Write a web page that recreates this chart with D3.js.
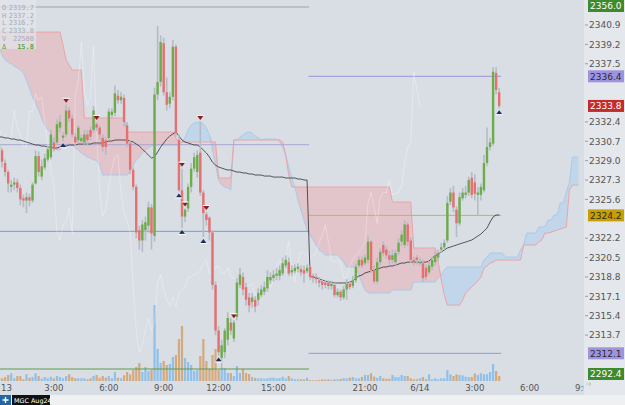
<!DOCTYPE html>
<html><head><meta charset="utf-8">
<script src="https://cdn.jsdelivr.net/npm/d3@7"></script>
<style>body{margin:0;background:#eceef1;overflow:hidden}svg{display:block}</style>
</head><body><svg id="c" width="625" height="405"></svg>
<script>
// ---------------- DATA (10-minute bars, MGC Aug24, 6/13 00:00 -> 6/14 04:20) ----------------
const opens=[2329.9,2329.9,2328.8,2328.0,2326.7,2326.9,2327.1,2326.6,2325.7,2325.5,2325.8,2325.5,2327.0,2329.4,2327.6,2328.4,2329.1,2329.3,2330.6,2330.6,
2331.9,2331.0,2331.3,2333.4,2332.7,2331.1,2330.8,2330.7,2330.6,2331.3,2331.7,2331.7,2332.2,2331.9,2331.0,2330.8,2331.0,2333.0,2333.2,2334.7,
2334.3,2334.5,2332.1,2330.5,2328.2,2326.7,2322.9,2322.0,2322.9,2323.3,2324.9,2322.4,2334.8,2335.9,2339.3,2335.0,2334.0,2334.6,2339.0,2330.8,
2326.4,2324.1,2324.8,2326.7,2328.3,2328.0,2329.7,2326.2,2324.3,2324.0,2322.7,2318.1,2314.1,2311.7,2312.2,2313.3,2314.8,2313.4,2315.3,2318.1,
2318.8,2317.9,2317.0,2316.6,2316.8,2316.8,2317.2,2317.5,2317.8,2318.5,2318.7,2318.9,2318.9,2319.1,2319.8,2320.1,2319.2,2319.3,2319.5,2319.5,
2319.4,2319.3,2319.7,2318.9,2318.8,2318.5,2318.4,2318.3,2318.3,2318.0,2318.1,2317.2,2317.5,2317.0,2317.7,2318.2,2318.0,2318.5,2319.8,2320.3,
2320.0,2320.3,2321.9,2319.4,2318.4,2320.1,2321.6,2321.2,2320.7,2320.3,2320.1,2321.0,2321.9,2321.6,2323.4,2322.0,2320.3,2320.5,2320.0,2320.0,
2319.6,2319.2,2319.7,2320.1,2320.5,2321.2,2321.4,2322.0,2325.4,2326.2,2324.7,2323.5,2325.7,2326.0,2326.2,2327.5,2327.1,2326.0,2326.0,2326.4,
2328.8,2330.2,2330.5,2336.7,2335.0];
const highs=[2330.8,2330.1,2329.1,2328.2,2327.3,2327.5,2327.4,2326.9,2326.0,2326.2,2326.1,2327.1,2329.9,2329.8,2329.1,2329.6,2330.3,2331.7,2331.0,2332.6,
2333.0,2331.5,2333.9,2333.7,2333.0,2331.4,2332.1,2331.3,2331.7,2331.7,2332.0,2333.8,2332.4,2332.1,2331.3,2331.1,2333.6,2333.6,2335.6,2335.2,
2335.0,2334.8,2332.4,2330.8,2328.4,2326.9,2323.3,2323.8,2324.1,2325.4,2325.2,2335.4,2340.8,2340.0,2339.8,2336.3,2335.0,2339.6,2339.2,2331.3,
2328.3,2324.8,2327.0,2328.8,2329.7,2329.9,2332.4,2326.4,2324.5,2324.1,2322.9,2318.4,2314.5,2313.3,2314.3,2315.7,2315.2,2315.0,2318.7,2319.6,
2319.2,2318.3,2317.4,2317.4,2317.1,2317.8,2318.1,2318.4,2319.4,2319.2,2319.4,2319.6,2319.8,2320.5,2320.7,2320.5,2319.8,2319.9,2320.0,2319.8,
2319.8,2319.9,2319.8,2319.1,2319.1,2318.8,2318.6,2318.5,2318.5,2318.4,2318.3,2317.8,2317.7,2318.0,2318.6,2318.4,2318.9,2320.0,2320.6,2320.6,
2320.8,2322.4,2322.0,2319.8,2320.5,2321.3,2321.9,2321.5,2321.1,2321.2,2321.2,2322.2,2322.9,2323.8,2323.6,2322.3,2320.6,2320.7,2320.5,2320.3,
2319.9,2320.2,2320.6,2321.1,2321.2,2321.8,2322.1,2325.9,2326.6,2326.8,2325.0,2326.2,2326.6,2326.8,2327.6,2328.0,2327.8,2326.7,2327.0,2329.5,
2331.9,2331.0,2337.2,2337.2,2335.4];
const lows=[2329.8,2328.4,2327.6,2326.2,2326.2,2326.4,2326.2,2325.1,2324.9,2324.4,2325.0,2325.3,2326.9,2327.6,2327.3,2328.2,2328.9,2329.1,2329.8,2330.4,
2331.5,2330.7,2331.1,2332.4,2331.0,2330.3,2330.5,2330.5,2330.4,2330.3,2330.8,2331.4,2331.6,2330.8,2329.8,2329.5,2330.8,2332.7,2332.9,2334.0,
2334.0,2332.0,2330.2,2327.8,2326.4,2322.2,2321.2,2321.0,2322.0,2322.7,2321.2,2321.9,2334.3,2335.5,2334.7,2333.4,2333.6,2334.3,2331.1,2326.3,
2323.1,2323.6,2324.5,2326.2,2328.0,2327.5,2325.9,2322.3,2323.3,2322.0,2317.7,2313.7,2311.9,2310.8,2311.7,2312.8,2313.7,2313.1,2315.0,2317.8,
2317.2,2316.3,2315.7,2316.1,2315.7,2316.3,2317.0,2317.2,2317.5,2318.2,2318.4,2318.5,2318.5,2318.9,2319.6,2318.9,2318.9,2319.1,2319.2,2318.9,
2318.3,2319.1,2318.5,2318.3,2318.2,2317.9,2317.7,2317.8,2317.7,2317.7,2317.0,2317.0,2316.7,2316.8,2316.8,2317.7,2317.8,2318.3,2319.6,2319.6,
2319.8,2320.0,2319.1,2318.2,2318.2,2319.8,2320.6,2320.4,2319.9,2320.0,2319.8,2320.7,2321.5,2321.3,2321.5,2320.0,2319.8,2319.9,2319.8,2318.4,
2318.5,2319.0,2319.4,2319.8,2320.2,2320.9,2321.2,2321.8,2325.1,2324.5,2322.3,2323.3,2325.5,2325.7,2325.9,2325.7,2325.5,2324.2,2325.5,2326.2,
2328.5,2329.9,2330.3,2334.8,2333.6];
const closes=[2330.3,2328.9,2328.0,2327.0,2326.9,2327.1,2326.6,2325.6,2325.5,2325.8,2325.5,2326.9,2329.4,2328.0,2328.5,2329.2,2330.0,2331.3,2330.0,2332.2,
2332.4,2331.2,2333.4,2332.7,2331.3,2330.6,2331.9,2331.0,2331.3,2330.8,2331.1,2333.4,2331.9,2331.3,2330.2,2330.2,2333.3,2333.3,2334.9,2334.3,
2334.6,2332.4,2330.5,2328.2,2326.7,2322.7,2322.0,2323.4,2323.6,2324.9,2322.6,2334.8,2335.9,2339.4,2335.0,2333.9,2334.6,2339.0,2331.4,2326.4,
2324.1,2324.7,2326.7,2328.3,2329.3,2329.5,2326.2,2324.4,2323.8,2322.7,2318.1,2314.1,2312.2,2312.8,2314.1,2315.2,2314.1,2314.8,2318.3,2319.0,
2317.7,2316.8,2316.3,2317.0,2316.2,2317.4,2317.7,2317.9,2318.8,2318.8,2319.0,2319.1,2319.4,2320.0,2320.3,2319.1,2319.4,2319.6,2319.7,2319.2,
2319.1,2319.6,2318.8,2318.7,2318.6,2318.3,2318.1,2318.1,2318.0,2318.2,2317.2,2317.5,2317.0,2317.7,2318.2,2317.9,2318.5,2319.7,2320.3,2319.8,
2320.5,2321.9,2319.4,2318.4,2320.1,2321.0,2320.9,2320.7,2320.3,2320.7,2320.9,2321.8,2322.5,2323.4,2321.9,2320.3,2320.1,2320.3,2320.1,2318.7,
2318.8,2319.8,2320.3,2320.7,2320.9,2321.4,2321.8,2325.3,2326.2,2324.9,2323.5,2325.8,2326.2,2326.2,2327.3,2326.0,2326.1,2326.2,2326.7,2328.8,
2330.2,2330.6,2336.8,2335.2,2333.8];
const volumes=[30,27,40,60,77,27,50,50,17,67,33,40,77,50,23,40,27,43,27,50,
40,27,50,67,40,27,27,27,27,17,27,50,60,33,50,33,50,27,90,33,
27,57,90,67,110,140,180,90,140,100,110,760,320,180,200,160,170,240,260,420,
550,230,190,160,100,110,250,420,200,120,260,320,110,130,130,80,80,50,150,80,
120,80,70,40,30,27,27,23,27,33,33,27,30,43,27,50,27,17,17,17,
17,33,10,7,7,10,17,12,17,12,17,17,20,27,27,33,40,27,27,40,
60,60,77,43,33,50,27,23,23,60,40,40,60,50,50,27,17,17,27,40,
17,67,17,27,17,27,27,110,67,50,67,60,57,43,40,40,77,60,77,67,
67,90,170,100,50];
const vwap=[2331.08,2331.08,2330.99,2330.99,2330.90,2330.90,2330.81,2330.81,2330.72,2330.63,2330.55,2330.46,2330.37,2330.37,2330.28,2330.28,2330.19,2330.19,2330.11,2330.11,
2330.19,2330.28,2330.28,2330.37,2330.37,2330.37,2330.46,2330.46,2330.46,2330.46,2330.46,2330.55,2330.55,2330.55,2330.55,2330.63,2330.72,2330.72,2330.81,2330.81,
2330.81,2330.81,2330.81,2330.72,2330.63,2330.46,2330.28,2330.02,2329.75,2329.49,2329.23,2329.32,2329.75,2330.19,2330.55,2330.90,2331.16,2331.34,2331.51,2331.16,
2330.81,2330.63,2330.55,2330.46,2330.37,2330.37,2330.19,2329.93,2329.67,2329.32,2328.87,2328.61,2328.44,2328.35,2328.26,2328.18,2328.18,2328.09,2328.00,2328.00,
2327.92,2327.92,2327.83,2327.83,2327.74,2327.74,2327.74,2327.65,2327.65,2327.65,2327.56,2327.56,2327.56,2327.56,2327.48,2327.48,2327.48,2327.48,2327.39,2327.39,
2327.30,2327.30,2318.80,2318.80,2318.71,2318.62,2318.53,2318.44,2318.35,2318.35,2318.27,2318.27,2318.27,2318.27,2318.27,2318.35,2318.44,2318.71,2318.88,2318.97,
2319.15,2319.23,2319.32,2319.41,2319.49,2319.58,2319.67,2319.67,2319.76,2319.76,2319.84,2319.93,2320.02,2320.02,2320.10,2320.10,2320.10,2320.10,2320.10,2320.10,
2320.10,2320.19,2320.46,2320.63,2320.81,2320.98,2321.16,2321.34,2321.42,2321.51,2321.60,2321.69,2321.78,2321.86,2321.95,2322.04,2322.21,2322.39,2322.56,2322.82,
2323.09,2323.61,2324.06,2324.23,2324.23];
// Ichimoku leading spans (26 bars projected forward)
const spanA=[2338.97,2338.27,2337.83,2337.65,2337.48,2337.30,2337.13,2336.95,2336.69,2336.07,2335.37,2334.58,2334.06,2333.44,2332.74,2332.12,2331.69,2331.43,2330.11,2329.93,
2329.93,2330.19,2330.37,2330.55,2330.37,2330.11,2329.93,2329.67,2329.49,2329.32,2329.23,2329.05,2329.05,2328.61,2327.74,2327.74,2327.74,2327.74,2327.74,2327.74,
2327.74,2327.74,2327.74,2328.00,2328.61,2329.05,2329.32,2329.67,2329.93,2330.11,2330.28,2330.37,2330.37,2330.37,2330.37,2330.37,2330.37,2330.37,2330.37,2330.37,
2330.63,2330.99,2331.69,2332.12,2332.30,2332.38,2332.38,2332.21,2331.86,2331.25,2329.93,2328.61,2327.30,2326.86,2326.69,2326.60,2326.42,2330.81,2330.81,2331.08,
2331.25,2331.43,2331.51,2331.43,2331.16,2330.99,2330.81,2330.90,2330.90,2330.90,2330.90,2330.90,2330.63,2330.19,2329.49,2328.44,2327.48,2326.69,2325.55,2324.67,
2323.79,2322.91,2322.47,2322.04,2321.60,2321.16,2320.98,2320.72,2320.72,2320.72,2320.72,2320.72,2320.46,2320.10,2319.67,2319.67,2319.67,2319.67,2318.97,2318.27,
2317.65,2317.39,2317.39,2317.39,2317.39,2317.39,2317.39,2317.39,2317.39,2317.65,2317.65,2317.65,2317.65,2317.65,2317.65,2317.65,2318.35,2318.35,2318.35,2318.35,
2318.35,2318.35,2318.35,2318.35,2318.71,2318.97,2319.41,2319.67,2319.67,2319.67,2319.67,2319.67,2319.67,2319.67,2319.67,2319.67,2319.67,2319.67,2319.67,2320.28,
2320.54,2320.90,2320.90,2320.90,2320.90,2320.90,2320.54,2320.54,2320.54,2320.54,2320.54,2321.16,2321.60,2322.65,2322.65,2322.65,2322.65,2323.18,2323.18,2323.18,
2323.79,2323.79,2324.23,2324.23,2325.29,2325.29,2326.25,2327.04,2329.32,2329.32,2329.32];
const spanB=[2340.28,2340.28,2340.28,2340.28,2340.28,2340.28,2340.28,2340.28,2340.28,2340.28,2340.28,2340.28,2340.28,2340.28,2340.28,2340.28,2340.28,2340.28,2340.28,2340.28,
2340.28,2339.14,2337.83,2337.39,2336.95,2336.95,2336.95,2336.95,2332.74,2332.74,2332.74,2332.74,2332.74,2332.74,2332.74,2332.74,2332.74,2332.74,2332.74,2332.74,
2332.74,2332.74,2331.51,2331.51,2331.51,2331.51,2331.51,2331.51,2331.51,2331.51,2331.51,2331.51,2331.51,2331.51,2331.51,2331.51,2331.51,2331.51,2330.99,2330.63,
2330.63,2330.63,2330.63,2330.63,2330.63,2330.63,2330.63,2330.63,2330.63,2330.63,2330.63,2330.63,2327.48,2327.48,2327.48,2327.48,2327.48,2330.81,2330.81,2330.81,
2330.81,2330.81,2330.81,2330.81,2330.81,2330.81,2330.81,2330.81,2330.81,2330.81,2330.81,2330.81,2330.81,2330.63,2329.49,2327.74,2326.69,2326.69,2326.69,2326.69,
2326.69,2326.69,2326.69,2326.69,2326.69,2326.69,2326.69,2326.69,2326.69,2326.69,2326.69,2326.69,2326.69,2326.69,2326.69,2326.69,2326.69,2326.69,2326.69,2326.69,
2326.69,2326.69,2326.69,2326.69,2326.69,2326.69,2326.69,2326.69,2326.69,2325.37,2325.37,2325.37,2325.37,2325.37,2325.37,2325.37,2321.34,2321.34,2321.34,2321.34,
2321.34,2321.34,2321.34,2321.34,2320.10,2318.53,2317.21,2316.33,2316.33,2316.33,2316.33,2316.33,2316.77,2317.39,2317.65,2317.92,2318.18,2318.44,2318.80,2319.58,
2319.76,2320.02,2320.10,2320.28,2320.28,2320.28,2320.28,2320.28,2320.28,2320.28,2320.28,2320.28,2321.60,2321.60,2321.60,2321.60,2321.60,2321.86,2322.04,2322.65,
2322.65,2322.73,2322.82,2322.91,2323.00,2323.09,2323.18,2326.42,2326.86,2326.86,2326.86];
const chikouShift=26;
const fractalDown=[22,32,60,61,66,68,77];
const fractalUp=[21,59,60,67,72,164];
// horizontal session levels
const levelPrices=[2356.0,2330.4,2322.8,2292.4,2336.4,2324.2,2312.1];
const levelFrom=[0,0,0,0,102,102,102];
const levelTo=[101,101,101,101,164,164,164];
const levelColors=['#9ea39a','#a9a6cf','#6f9fd0','#5f9a48','#9c91de','#d3ae4c','#9c91de'];
// right axis
const yTicks=[2340.9,2339.2,2337.5,2332.4,2330.7,2329.0,2327.3,2325.6,2322.2,2320.5,2318.8,2317.1,2315.4,2313.7];
const tagPrices=[2356.0,2336.4,2333.8,2324.2,2312.1,2292.4];
const tagFill=['#3e8a2c','#9f93e0','#c42b2b','#c79f00','#9f93e0','#3e8a2c'];
const tagInk=['#ffffff','#2b2b2b','#ffffff','#2b2b2b','#2b2b2b','#ffffff'];
// time axis
const tickIdx=[0,18,36,54,72,90,120,138,156,174,192];
const tickLabels=['13','3:00','6:00','9:00','12:00','15:00','21:00','6/14','3:00','6:00','9:00'];
const infoLabels=['O','H','L','C','V','Δ'];
const infoValues=['2319.7','2337.2','2316.7','2333.8','22580','15.8'];

// ---------------- LAYOUT ----------------
const PW=584, PH=381;
const svg=d3.select('#c');
const x=d3.scaleLinear().domain([0,192]).range([-1,584.6]);
const y=d3.scaleLinear().domain([2340.9,2313.7]).range([25,335.08]);
const vy=d3.scaleLinear().domain([0,800]).range([381,301]);
const fmt=d3.format('.1f');

svg.append('rect').attr('width',625).attr('height',405).attr('fill','#eef0f2');
svg.append('rect').attr('width',PW).attr('height',395).attr('fill','#d9dee5');
svg.append('rect').attr('x',PW).attr('width',625-PW).attr('height',395).attr('fill','#e4e7ec');
const defs=svg.append('defs');
defs.append('clipPath').attr('id','pc').append('rect').attr('width',PW).attr('height',PH);
defs.append('clipPath').attr('id','xc').append('rect').attr('width',PW).attr('height',395);

const g=svg.append('g').attr('clip-path','url(#pc)');
const idx=d3.range(spanA.length);
// cloud
g.append('path').datum(idx).attr('fill','rgba(238,160,166,0.42)')
 .attr('d',d3.area().x(i=>x(i)).y0(i=>y(spanA[i])).y1(i=>Math.min(y(spanA[i]),y(spanB[i]))));
g.append('path').datum(idx).attr('fill','rgba(168,204,240,0.48)')
 .attr('d',d3.area().x(i=>x(i)).y0(i=>y(spanB[i])).y1(i=>Math.min(y(spanA[i]),y(spanB[i]))));
g.append('path').datum(idx).attr('fill','none').attr('stroke','#a9cae9').attr('stroke-width',1)
 .attr('d',d3.line().x(i=>x(i)).y(i=>y(spanA[i])));
g.append('path').datum(idx).attr('fill','none').attr('stroke','#eba4a6').attr('stroke-width',1)
 .attr('d',d3.line().x(i=>x(i)).y(i=>y(spanB[i])));

// volume
const bars=d3.range(closes.length);
g.selectAll('.vol').data(bars).join('rect').attr('class','vol')
 .attr('x',i=>x(i)-1.1).attr('width',2.2)
 .attr('y',i=>vy(volumes[i])).attr('height',i=>vy(0)-vy(volumes[i]))
 .attr('fill',i=>closes[i]>=opens[i]?'#8ec0ea':'#d4a97c');

// levels
const clampY=v=>Math.max(7,Math.min(369,v));
levelPrices.forEach((p,k)=>{
  g.append('line').attr('x1',x(levelFrom[k])-1.5).attr('x2',x(levelTo[k])+2)
   .attr('y1',clampY(y(p))).attr('y2',clampY(y(p)))
   .attr('stroke',levelColors[k]).attr('stroke-width',1);
});

// chikou span (close shifted back), faint
const chIdx=d3.range(closes.length-chikouShift);
g.append('path').datum(chIdx).attr('fill','none').attr('stroke','rgba(255,255,255,0.3)').attr('stroke-width',1)
 .attr('d',d3.line().x(i=>x(i)).y(i=>y(closes[i+chikouShift])));

// vwap
g.append('path').datum(bars).attr('fill','none').attr('stroke','#3a3a3a').attr('stroke-width',1).attr('opacity',0.85)
 .attr('d',d3.line().x(i=>x(i)).y(i=>y(vwap[i])));

// candles
g.selectAll('.wick').data(bars).join('line').attr('class','wick')
 .attr('x1',i=>x(i)).attr('x2',i=>x(i)).attr('y1',i=>y(highs[i])).attr('y2',i=>y(lows[i]))
 .attr('stroke','#b6bbc3').attr('stroke-width',1.6);
g.selectAll('.body').data(bars).join('rect').attr('class','body')
 .attr('x',i=>x(i)-1.2).attr('width',2.4)
 .attr('y',i=>Math.min(y(opens[i]),y(closes[i])))
 .attr('height',i=>Math.max(1.2,Math.abs(y(opens[i])-y(closes[i]))))
 .attr('fill',i=>closes[i]>=opens[i]?'#6cad4a':'#e66f6f');

// fractal markers
fractalDown.forEach(i=>{
  const cx=x(i), cy=y(highs[i])-4;
  g.append('path').attr('d',`M${cx-3},${cy-2}L${cx+3},${cy-2}L${cx},${cy+2}Z`).attr('fill','#8a1c1c');
  g.append('line').attr('x1',cx-3.5).attr('x2',cx+3.5).attr('y1',cy-2.5).attr('y2',cy-2.5).attr('stroke','#fff').attr('stroke-width',1);
});
fractalUp.forEach(i=>{
  const cx=x(i), cy=y(lows[i])+4;
  g.append('path').attr('d',`M${cx-3},${cy+2}L${cx+3},${cy+2}L${cx},${cy-2}Z`).attr('fill','#1d2d5c');
  g.append('line').attr('x1',cx-3.5).attr('x2',cx+3.5).attr('y1',cy+2.5).attr('y2',cy+2.5).attr('stroke','#fff').attr('stroke-width',1);
});

// right axis
const ax=svg.append('g');
yTicks.forEach(t=>{
  ax.append('line').attr('x1',PW+1).attr('x2',PW+4).attr('y1',y(t)).attr('y2',y(t)).attr('stroke','#9a9ea5');
  ax.append('text').attr('x',PW+5).attr('y',y(t)+3.3).text(fmt(t))
    .attr('font-family','DejaVu Sans').attr('font-size',9).attr('fill','#555');
});
tagPrices.forEach((p,k)=>{
  const cy=Math.max(6,Math.min(374,y(p)));
  ax.append('rect').attr('x',PW+4).attr('y',cy-6).attr('width',36).attr('height',12).attr('fill',tagFill[k]);
  ax.append('text').attr('x',PW+6).attr('y',cy+3.3).text(fmt(p))
    .attr('font-family','DejaVu Sans').attr('font-size',9).attr('fill',tagInk[k]);
});

// time axis
const xa=svg.append('g').attr('clip-path','url(#xc)');
tickIdx.forEach((t,k)=>{
  const first=k===0;
  xa.append('text').attr('x',first?1:x(t)).attr('y',391).attr('text-anchor',first?'start':'middle')
   .text(tickLabels[k]).attr('font-family','DejaVu Sans').attr('font-size',8.6).attr('fill','#555');
});
svg.append('path').attr('d','M586,384 L591,384 M589,382 L591,384 L589,386').attr('stroke','#c4c8ce').attr('fill','none');

// info panel
svg.append('rect').attr('x',0).attr('y',0).attr('width',36).attr('height',49).attr('fill','rgba(226,229,234,0.72)');
infoLabels.forEach((l,k)=>{
  const col=k===5?'#5aa83a':'#a7abb2';
  svg.append('text').attr('x',2).attr('y',10+k*7.7).text(l).attr('font-family','DejaVu Sans Mono').attr('font-size',7).attr('fill',col);
  svg.append('text').attr('x',34).attr('y',10+k*7.7).attr('text-anchor','end').text(infoValues[k])
    .attr('font-family','DejaVu Sans Mono').attr('font-size',7).attr('font-weight',k===5?'bold':'normal').attr('fill',col);
});

// bottom symbol tab
svg.append('rect').attr('x',0).attr('y',395).attr('width',11).attr('height',10).attr('fill','#2165a9');
svg.append('path').attr('d','M5.5,397 V403 M2.5,400 H8.5').attr('stroke','#fff').attr('stroke-width',1.4);
svg.append('rect').attr('x',12).attr('y',395).attr('width',38).attr('height',10).attr('fill','#111');
svg.append('text').attr('x',14).attr('y',403).text('MGC Aug24').attr('font-family','DejaVu Sans').attr('font-size',6.4).attr('fill','#fff');
</script></body></html>
